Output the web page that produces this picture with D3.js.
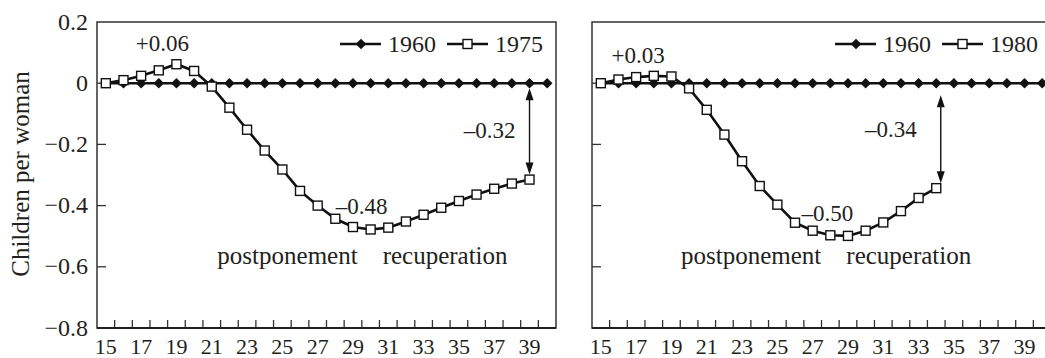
<!DOCTYPE html>
<html>
<head>
<meta charset="utf-8">
<script src="https://cdn.jsdelivr.net/npm/d3@7"></script>
</head>
<body style="margin:0; background:#fff">
<div id="chart"></div>
<script>
// categories (age), only odd ages get a label
var ages = [15,16,17,18,19,20,21,22,23,24,25,26,27,28,29,30,31,32,33,34,35,36,37,38,39,40];
var ageLabels = [15,17,19,21,23,25,27,29,31,33,35,37,39];
var yTicks = [0.2, 0, -0.2, -0.4, -0.6, -0.8];

// 1960 cohort is the reference (zero line), ages 15-40
var ref1960 = [0,0,0,0,0,0,0,0,0,0,0,0,0,0,0,0,0,0,0,0,0,0,0,0,0,0];
// cohort 1975, ages 15-39
var ages1975 = [15,16,17,18,19,20,21,22,23,24,25,26,27,28,29,30,31,32,33,34,35,36,37,38,39];
var coh1975 = [0, 0.01, 0.024, 0.042, 0.062, 0.04, -0.011, -0.08, -0.152, -0.22, -0.282, -0.352,
  -0.4, -0.443, -0.47, -0.478, -0.472, -0.452, -0.43, -0.407, -0.385, -0.364, -0.345, -0.328, -0.315];
// cohort 1980, ages 15-34
var ages1980 = [15,16,17,18,19,20,21,22,23,24,25,26,27,28,29,30,31,32,33,34];
var coh1980 = [0, 0.012, 0.02, 0.024, 0.022, -0.017, -0.087, -0.168, -0.255, -0.336, -0.397, -0.456,
  -0.482, -0.497, -0.499, -0.482, -0.455, -0.418, -0.375, -0.343];

var W = 1045, H = 358;
var plotTop = 22, plotBottom = 328, panelW = 459;
var ink = "#231f20";

var svg = d3.select("#chart")
    .append("svg")
    .attr("width", W)
    .attr("height", H);

function label(sel, size) {
    return sel.attr("font-family", "Liberation Serif")
        .style("font-family", "'Liberation Serif'")
        .style("font-size", size + "px")
        .style("fill", ink);
}

var y = d3.scaleLinear()
    .domain([-0.8, 0.2])
    .range([plotBottom, plotTop]);

function drawPanel(x0, cohortName, cAges, cVals, showYLabels, notes) {
    var g = svg.append("g");

    var x = d3.scaleBand()
        .domain(ages)
        .range([x0, x0 + panelW]);
    var bw = x.bandwidth();
    var xc = function(a){ return x(a) + bw / 2; };

    // frame
    g.append("rect")
        .attr("x", x0)
        .attr("y", plotTop)
        .attr("width", panelW)
        .attr("height", plotBottom - plotTop)
        .style("fill", "none")
        .style("stroke", "#333")
        .style("stroke-width", 1.5);

    // x ticks between categories, pointing inside
    g.selectAll(".xt")
        .data(ages.slice(1))
        .enter()
        .append("line")
        .attr("x1", function(d){ return x(d); })
        .attr("x2", function(d){ return x(d); })
        .attr("y1", plotBottom)
        .attr("y2", plotBottom - 8)
        .style("stroke", "#333")
        .style("stroke-width", 1.3);

    g.append("line")
        .attr("x1", x0).attr("x2", x0 + panelW)
        .attr("y1", plotBottom).attr("y2", plotBottom)
        .style("stroke", ink)
        .style("stroke-width", 2);

    label(g.selectAll(".xl")
        .data(ageLabels)
        .enter()
        .append("text")
        .attr("x", function(d){ return xc(d); })
        .attr("y", plotBottom + 26)
        .attr("text-anchor", "middle"), 22)
        .text(function(d){ return d; });

    // y ticks, pointing inside
    g.selectAll(".yt")
        .data(yTicks.slice(1, -1))
        .enter()
        .append("line")
        .attr("x1", x0)
        .attr("x2", x0 + 9)
        .attr("y1", function(d){ return y(d); })
        .attr("y2", function(d){ return y(d); })
        .style("stroke", "#333")
        .style("stroke-width", 1.3);

    if (showYLabels) {
        label(g.selectAll(".yl")
            .data(yTicks)
            .enter()
            .append("text")
            .attr("x", x0 - 9)
            .attr("y", function(d){ return y(d) + 7.5; })
            .attr("text-anchor", "end"), 24)
            .text(function(d){ return d === 0 ? "0" : d3.format(".1f")(d).replace("-", "\u2013"); });
    }

    var line = d3.line()
        .x(function(d){ return xc(d[0]); })
        .y(function(d){ return y(d[1]); });

    var refPts = ages.map(function(a, i){ return [a, ref1960[i]]; });
    var cohPts = cAges.map(function(a, i){ return [a, cVals[i]]; });

    g.append("path")
        .datum(refPts)
        .attr("d", line)
        .style("fill", "none")
        .style("stroke", "#111")
        .style("stroke-width", 2.6);

    var diamond = d3.symbol().type(d3.symbolDiamond2).size(72);
    g.selectAll(".dm")
        .data(refPts)
        .enter()
        .append("path")
        .attr("d", diamond)
        .attr("transform", function(d){ return "translate(" + xc(d[0]) + "," + y(d[1]) + ")"; })
        .style("fill", "#111");

    g.append("path")
        .datum(cohPts)
        .attr("d", line)
        .style("fill", "none")
        .style("stroke", "#111")
        .style("stroke-width", 2.6);

    g.selectAll(".sq")
        .data(cohPts)
        .enter()
        .append("rect")
        .attr("x", function(d){ return xc(d[0]) - 4.5; })
        .attr("y", function(d){ return y(d[1]) - 4.5; })
        .attr("width", 9)
        .attr("height", 9)
        .style("fill", "#fff")
        .style("stroke", "#111")
        .style("stroke-width", 1.4);

    // legend
    var lx = x0 + panelW - 216, ly = 44;
    g.append("line").attr("x1", lx).attr("x2", lx + 41).attr("y1", ly).attr("y2", ly)
        .style("stroke", "#111").style("stroke-width", 2.4);
    g.append("path").attr("d", diamond)
        .attr("transform", "translate(" + (lx + 21) + "," + ly + ")")
        .style("fill", "#111");
    label(g.append("text").attr("x", lx + 48).attr("y", ly + 8), 24).text("1960");
    var lx2 = lx + 107;
    g.append("line").attr("x1", lx2).attr("x2", lx2 + 41).attr("y1", ly).attr("y2", ly)
        .style("stroke", "#111").style("stroke-width", 2.4);
    g.append("rect").attr("x", lx2 + 16).attr("y", ly - 4.5).attr("width", 9).attr("height", 9)
        .style("fill", "#fff").style("stroke", "#111").style("stroke-width", 1.4);
    label(g.append("text").attr("x", lx2 + 48).attr("y", ly + 8), 24).text(cohortName);

    // annotations
    label(g.append("text")
        .attr("x", xc(notes.peakAge) + notes.peakDx)
        .attr("y", y(notes.peakVal) - 13)
        .attr("text-anchor", "middle"), 23)
        .text(notes.peakText);

    label(g.append("text")
        .attr("x", xc(notes.minAge) + notes.minDx)
        .attr("y", y(notes.minVal) - 15)
        .attr("text-anchor", "middle"), 23)
        .text(notes.minText);

    var split = xc(notes.minAge) + notes.splitDx;
    label(g.append("text")
        .attr("x", split - 13)
        .attr("y", y(-0.6) - 3)
        .attr("text-anchor", "end"), 25)
        .text("postponement");
    label(g.append("text")
        .attr("x", split + 12)
        .attr("y", y(-0.6) - 3)
        .attr("text-anchor", "start"), 25)
        .text("recuperation");

    // gap arrow at last observed age
    var ax = xc(notes.endAge) + notes.arrowDx;
    var ay1 = y(0) + notes.arrowTop, ay2 = y(notes.endVal) - 5;
    g.append("line")
        .attr("x1", ax).attr("x2", ax)
        .attr("y1", ay1 + 4).attr("y2", ay2 - 4)
        .style("stroke", "#111").style("stroke-width", 1.4);
    g.append("path")
        .attr("d", "M" + ax + "," + ay1 + "l-4,12l8,0z")
        .style("fill", "#111");
    g.append("path")
        .attr("d", "M" + ax + "," + ay2 + "l-4,-12l8,0z")
        .style("fill", "#111");
    label(g.append("text")
        .attr("x", ax + notes.endDx)
        .attr("y", y(notes.endVal / 2) + notes.endDy)
        .attr("text-anchor", "middle"), 23)
        .text(notes.endText);
}

drawPanel(97, "1975", ages1975, coh1975, true, {
    peakAge: 19, peakVal: 0.062, peakText: "+0.06", peakDx: -14,
    minAge: 30, minVal: -0.478, minText: "\u20130.48", minDx: -9, splitDx: 0,
    endAge: 39, endVal: -0.315, endText: "\u20130.32", arrowDx: 0, arrowTop: 5,
    endDx: -40, endDy: 7
});
drawPanel(592, "1980", ages1980, coh1980, false, {
    peakAge: 17, peakVal: 0.024, peakText: "+0.03", peakDx: 2,
    minAge: 28, minVal: -0.499, minText: "\u20130.50", minDx: -3, splitDx: 4,
    endAge: 34, endVal: -0.343, endText: "\u20130.34", arrowDx: 4.5, arrowTop: 12,
    endDx: -50, endDy: 1
});

// y axis title
label(svg.append("text")
    .attr("transform", "translate(29,174) rotate(-90)")
    .attr("text-anchor", "middle"), 25)
    .text("Children per woman");
</script>
</body>
</html>
